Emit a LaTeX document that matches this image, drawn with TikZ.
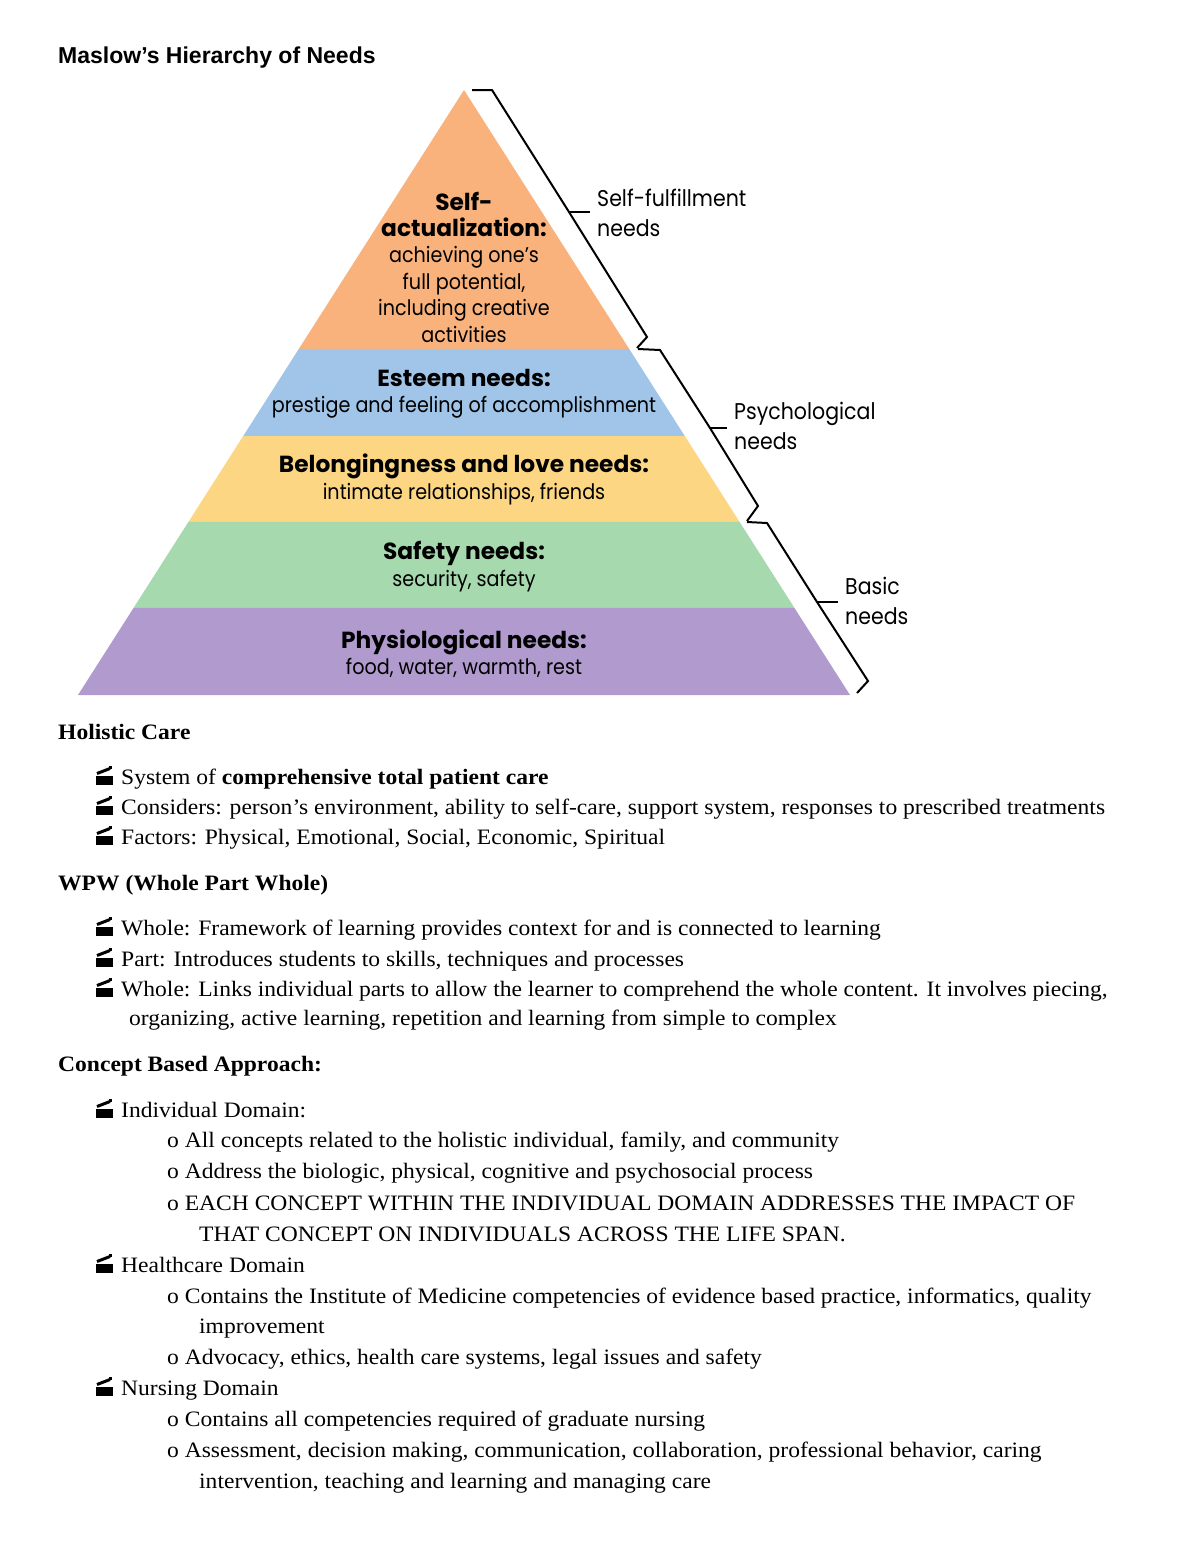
\documentclass[tikz,border=0pt]{standalone}
\usepackage{fontspec}
\setmainfont[FakeStretch=1.07]{Liberation Serif}
\newfontfamily\pyrfont[FakeStretch=0.9]{Poppins}
\newfontfamily\pyrwide{Poppins}
\newfontfamily\headfont{Liberation Sans}
\usetikzlibrary{calc}
\definecolor{selfcol}{RGB}{249,178,124}
\definecolor{esteemcol}{RGB}{160,197,233}
\definecolor{lovecol}{RGB}{253,214,131}
\definecolor{safecol}{RGB}{166,217,174}
\definecolor{physcol}{RGB}{177,155,206}
\newcommand{\lvl}[1]{{\pyrwide\fontsize{23.3}{26.4}\selectfont\bfseries #1}}
\tikzstyle{txt} = [anchor=base west, inner sep=0pt, font=\fontsize{22}{25}\selectfont]
\tikzstyle{hd} = [txt, font=\fontsize{22}{25}\selectfont\bfseries]
\tikzstyle{layer} = [align=center, inner sep=0pt, font=\pyrfont\fontsize{21.3}{26.4}\selectfont]
\tikzstyle{grp} = [anchor=west, align=left, inner sep=0pt, font=\pyrfont\fontsize{22.8}{30}\selectfont]
\tikzstyle{brace} = [line width=2pt, line join=miter]
\tikzset{clapper/.pic={
  \fill (-9,-1) rectangle (8,8);
  \draw[line width=3pt] (-8,-3.5) -- (5,-8.5);
  \fill (4,-11) rectangle (7,-8);
}}

\begin{document}
\begin{tikzpicture}[x=1pt,y=-1pt]
  \useasboundingbox (0,0) rectangle (1200,1553);
  \fill[white] (0,0) rectangle (1200,1553);

  % pyramid
  \coordinate (apex) at (464,90);
  \coordinate (bl) at (78,695);
  \coordinate (br) at (850,695);
  \foreach \ta/\tb/\col in {0/0.428/selfcol, 0.428/0.572/esteemcol, 0.572/0.714/lovecol,
                            0.714/0.856/safecol, 0.856/1/physcol}
    \fill[\col] ($(apex)!\ta!(bl)$) -- ($(apex)!\tb!(bl)$) -- ($(apex)!\tb!(br)$) -- ($(apex)!\ta!(br)$) -- cycle;

  \node[layer] (selfact) at (464,267) {\lvl{Self-}\\\lvl{actualization:}\\achieving one’s\\full potential,\\including creative\\activities};
  \node[layer] (esteem) at (464,394) {\lvl{Esteem needs:}\\prestige and feeling of accomplishment};
  \node[layer] (love) at (464,479.5) {\lvl{Belongingness and love needs:}\\intimate relationships, friends};
  \node[layer] (safety) at (464,566.5) {\lvl{Safety needs:}\\security, safety};
  \node[layer] (physio) at (464,653.5) {\lvl{Physiological needs:}\\food, water, warmth, rest};

  % braces
  \node[grp] (fulfil) at (597,213) {Self-fulfillment\\needs};
  \node[grp] (psych) at (734,426) {Psychological\\needs};
  \node[grp] (basic) at (845,601) {Basic\\needs};

  \coordinate (b1a) at (472,90);  \coordinate (b1b) at (492,90);
  \coordinate (b1m) at (569,212); \coordinate (b1c) at (647,337); \coordinate (b1d) at (637,348);
  \coordinate (b2a) at (638,349); \coordinate (b2b) at (660,350);
  \coordinate (b2m) at (710,428); \coordinate (b2c) at (758,506); \coordinate (b2d) at (747,521);
  \coordinate (b3a) at (747,522); \coordinate (b3b) at (767,523);
  \coordinate (b3m) at (817,602); \coordinate (b3c) at (868,681); \coordinate (b3d) at (857,693);
  \draw[brace] (b1a) -- (b1b) -- (b1m) -- (b1c) -- (b1d);
  \draw[brace] (b2a) -- (b2b) -- (b2m) -- (b2c) -- (b2d);
  \draw[brace] (b3a) -- (b3b) -- (b3m) -- (b3c) -- (b3d);
  \draw[brace, shorten >=7pt] (b1m) -- (b1m -| fulfil.west);
  \draw[brace, shorten >=7pt] (b2m) -- (b2m -| psych.west);
  \draw[brace, shorten >=7pt] (b3m) -- (b3m -| basic.west);

  % title
  \node[anchor=base west, inner sep=0pt, font=\headfont\bfseries\fontsize{23}{27}\selectfont] (title) at (58,63) {Maslow’s Hierarchy of Needs};

  % holistic care
  \node[hd] (holistic) at (58,739) {Holistic Care};
  \node[txt] (hc1) at (121,784) {System of \textbf{comprehensive total patient care}};
  \node[txt] (hc2) at (121,814) {Considers: person’s environment, ability to self-care, support system, responses to prescribed treatments};
  \node[txt] (hc3) at (121,844) {Factors: Physical, Emotional, Social, Economic, Spiritual};

  % wpw
  \node[hd] (wpw) at (58,890) {WPW (Whole Part Whole)};
  \node[txt] (wp1) at (121,935) {Whole: Framework of learning provides context for and is connected to learning};
  \node[txt] (wp2) at (121,966) {Part: Introduces students to skills, techniques and processes};
  \node[txt] (wp3) at (121,996) {Whole: Links individual parts to allow the learner to comprehend the whole content. It involves piecing,};
  \node[txt] (wp3b) at (129,1025) {organizing, active learning, repetition and learning from simple to complex};

  % concept based approach
  \node[hd] (concept) at (58,1071) {Concept Based Approach:};
  \node[txt] (dom1) at (121,1117) {Individual Domain:};
  \node[txt] (d1a) at (167,1147) {o All concepts related to the holistic individual, family, and community};
  \node[txt] (d1b) at (167,1178) {o Address the biologic, physical, cognitive and psychosocial process};
  \node[txt] (d1c) at (167,1210) {o EACH CONCEPT WITHIN THE INDIVIDUAL DOMAIN ADDRESSES THE IMPACT OF};
  \node[txt] (d1cb) at (199,1241) {THAT CONCEPT ON INDIVIDUALS ACROSS THE LIFE SPAN.};
  \node[txt] (dom2) at (121,1272) {Healthcare Domain};
  \node[txt] (d2a) at (167,1303) {o Contains the Institute of Medicine competencies of evidence based practice, informatics, quality};
  \node[txt] (d2ab) at (199,1333) {improvement};
  \node[txt] (d2b) at (167,1364) {o Advocacy, ethics, health care systems, legal issues and safety};
  \node[txt] (dom3) at (121,1395) {Nursing Domain};
  \node[txt] (d3a) at (167,1426) {o Contains all competencies required of graduate nursing};
  \node[txt] (d3b) at (167,1457) {o Assessment, decision making, communication, collaboration, professional behavior, caring};
  \node[txt] (d3bb) at (199,1488) {intervention, teaching and learning and managing care};

  % bullets
  \foreach \yy in {777,807,837,928,959,989,1110,1265,1388}
    \pic at (105,\yy) {clapper};
\end{tikzpicture}
\end{document}
